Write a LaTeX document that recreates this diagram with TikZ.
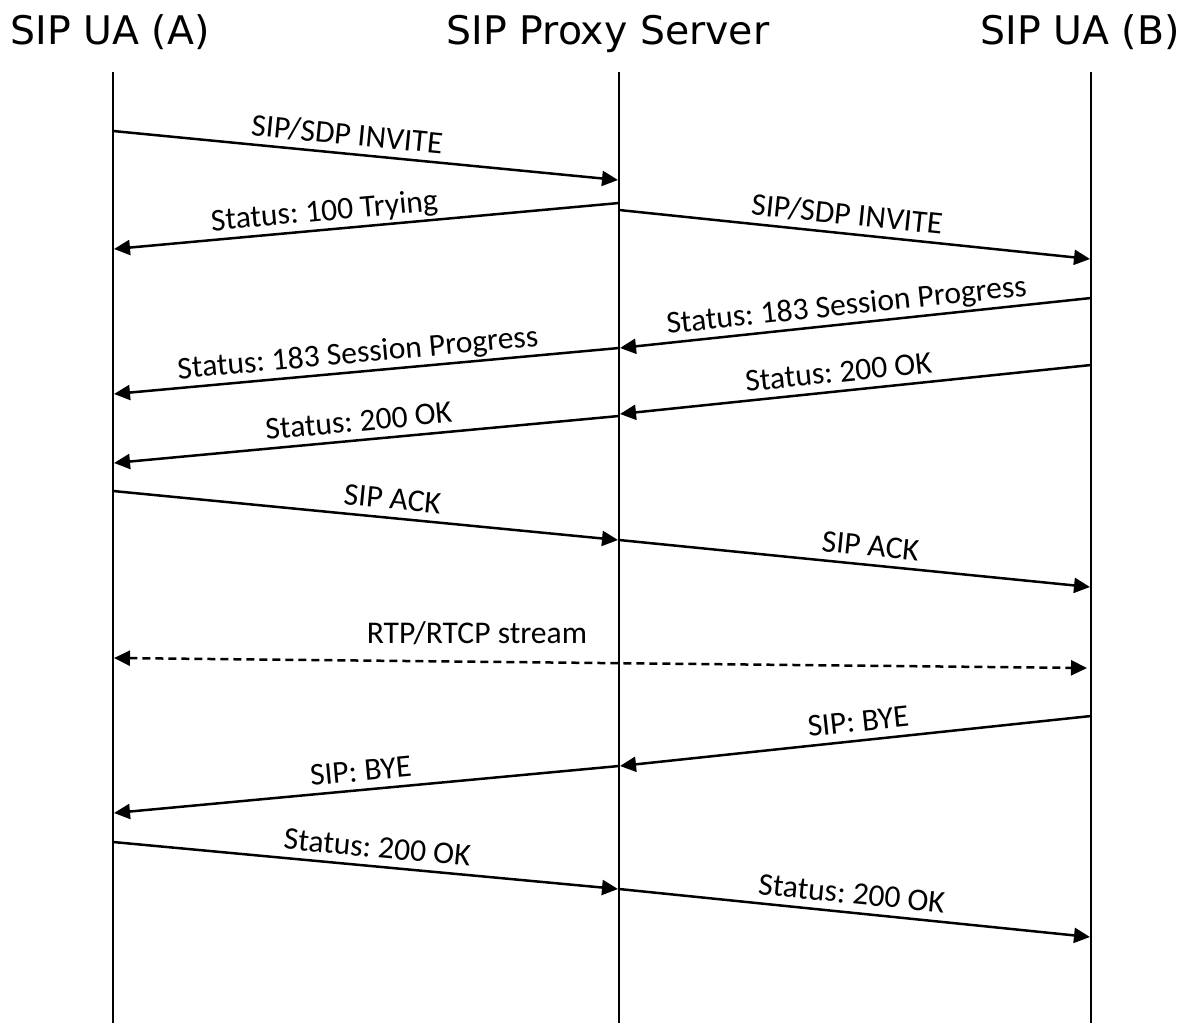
\documentclass[tikz,border=0pt]{standalone}
\usepackage{fontspec}
\setmainfont{Carlito}
\newfontfamily\headfont{DejaVu Sans}
\usetikzlibrary{arrows.meta}
\frenchspacing
\begin{document}
\frenchspacing
\begin{tikzpicture}[x=0.5pt,y=-0.5pt,
  lifeline/.style={line width=0.75pt},
  msg/.style={line width=1.25pt, -{Triangle[length=8pt,width=7.5pt]}},
  stream/.style={line width=1.25pt, dash pattern=on 4pt off 2.5pt,
     {Triangle[length=8pt,width=7.5pt]}-{Triangle[length=8pt,width=7.5pt]}},
  lbl/.style={sloped, anchor=base, yshift=4.5pt, inner sep=0pt,
     font=\fontsize{15.8pt}{18pt}\selectfont},
  flat/.style={anchor=base, inner sep=0pt, font=\fontsize{15.8pt}{18pt}\selectfont},
  head/.style={anchor=base, inner sep=0pt, font=\headfont\fontsize{19.7pt}{22pt}\selectfont}]
\useasboundingbox (0,0) rectangle (1189,1023);

% headers
\node[head] (hA) at (110,44) {SIP UA (A)};
\node[head] (hP) at (608,44) {SIP Proxy Server};
\node[head] (hB) at (1080,44) {SIP UA (B)};

% lifelines
\coordinate (At) at (113,72);  \coordinate (Ab) at (113,1023);
\coordinate (Pt) at (619,72);  \coordinate (Pb) at (619,1023);
\coordinate (Bt) at (1091,72); \coordinate (Bb) at (1091,1023);
\draw[lifeline] (At) -- (Ab);
\draw[lifeline] (Pt) -- (Pb);
\draw[lifeline] (Bt) -- (Bb);

% message end points
\coordinate (a1) at (113,131); \coordinate (p1) at (618,180);
\coordinate (p2) at (619,203); \coordinate (a2) at (114,249);
\coordinate (p3) at (619,210); \coordinate (b3) at (1090,259);
\coordinate (b4) at (1091,298); \coordinate (p4) at (620,348);
\coordinate (p5) at (619,348); \coordinate (a5) at (114,394);
\coordinate (b6) at (1091,365); \coordinate (p6) at (620,414);
\coordinate (p7) at (619,416); \coordinate (a7) at (114,463);
\coordinate (a8) at (113,491); \coordinate (p8) at (618,540);
\coordinate (p9) at (619,540); \coordinate (b9) at (1090,587);
\coordinate (a10) at (114,658); \coordinate (b10) at (1087,668);
\coordinate (b11) at (1091,716); \coordinate (p11) at (620,766);
\coordinate (p12) at (619,766); \coordinate (a12) at (114,813);
\coordinate (a13) at (113,842); \coordinate (p13) at (618,889);
\coordinate (p14) at (619,889); \coordinate (b14) at (1090,937);

\draw[msg] (a1) -- node[lbl, pos=0.46] (l1) {SIP/SDP INVITE} (p1);
\draw[msg] (p2) -- node[lbl, pos=0.58] (l2) {Status: 100 Trying} (a2);
\draw[msg] (p3) -- node[lbl, pos=0.48] (l3) {SIP/SDP INVITE} (b3);
\draw[msg] (b4) -- node[lbl, pos=0.515] (l4) {Status: 183 Session Progress} (p4);
\draw[msg] (p5) -- node[lbl, pos=0.514] (l5) {Status: 183 Session Progress} (a5);
\draw[msg] (b6) -- node[lbl, pos=0.532] (l6) {Status: 200 OK} (p6);
\draw[msg] (p7) -- node[lbl, pos=0.512] (l7) {Status: 200 OK} (a7);
\draw[msg] (a8) -- node[lbl, pos=0.55] (l8) {SIP ACK} (p8);
\draw[msg] (p9) -- node[lbl, pos=0.53] (l9) {SIP ACK} (b9);
\draw[stream] (a10) -- node[flat, pos=0.373, yshift=9pt] (l10) {RTP/RTCP stream} (b10);
\draw[msg] (b11) -- node[lbl, pos=0.49] (l11) {SIP: BYE} (p11);
\draw[msg] (p12) -- node[lbl, pos=0.508] (l12) {SIP: BYE} (a12);
\draw[msg] (a13) -- node[lbl, pos=0.52] (l13) {Status: 200 OK} (p13);
\draw[msg] (p14) -- node[lbl, pos=0.49] (l14) {Status: 200 OK} (b14);
\end{tikzpicture}
\end{document}
